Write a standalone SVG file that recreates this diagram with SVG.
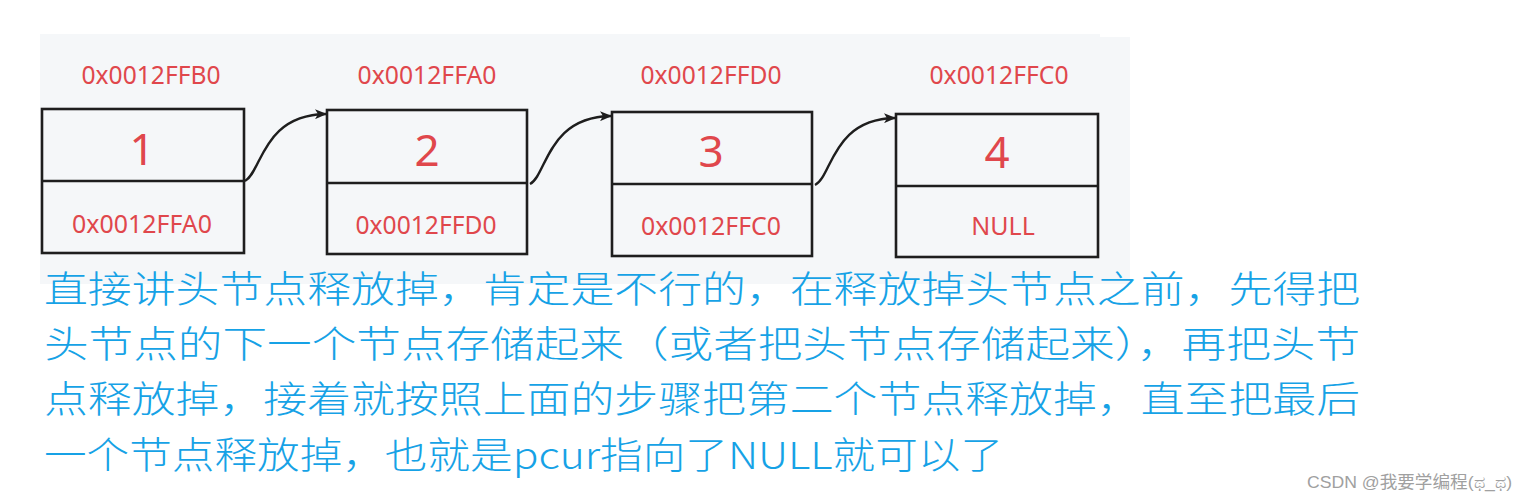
<svg xmlns="http://www.w3.org/2000/svg" width="1527" height="502" viewBox="0 0 1527 502">
<defs>
<style>
.box{fill:none;stroke:#1e1e1e;stroke-width:2.6}
.lbl{font-family:"Noto Sans","Liberation Sans",sans-serif;fill:#e0474c;font-size:25px;text-anchor:middle}
.num{font-family:"Noto Sans","Liberation Sans",sans-serif;fill:#e0474c;font-size:44px;text-anchor:middle}
.con{fill:none;stroke:#1e1e1e;stroke-width:2.4}
.txt{font-family:"Noto Sans CJK SC","Noto Sans CJK JP",sans-serif;fill:#16a2e6;font-size:37px;font-weight:300}
.wm{font-family:"Liberation Sans","Noto Sans CJK SC",sans-serif;fill:#a0a0a0;font-size:17px}
</style>
<marker id="arr" viewBox="0 0 12 10" refX="11" refY="5" markerWidth="12" markerHeight="10" markerUnits="userSpaceOnUse" orient="auto">
<path d="M0,0 L12,5 L0,10 L3,5 Z" fill="#1e1e1e"/>
</marker>
</defs>
<rect x="0" y="0" width="1527" height="502" fill="#ffffff"/>
<rect x="40" y="34" width="1060" height="4" fill="#f5f7f9"/>
<rect x="40" y="37" width="1090" height="247" fill="#f5f7f9"/>

<g id="node1">
<text class="lbl" x="151" y="84" textLength="139" lengthAdjust="spacingAndGlyphs">0x0012FFB0</text>
<rect class="box" x="42" y="109" width="202" height="144"/>
<line class="box" x1="42" y1="181" x2="244" y2="181"/>
<text class="num" x="142" y="165">1</text>
<text class="lbl" x="142" y="233" textLength="140" lengthAdjust="spacingAndGlyphs">0x0012FFA0</text>
</g>
<g id="node2">
<text class="lbl" x="427" y="84" textLength="139" lengthAdjust="spacingAndGlyphs">0x0012FFA0</text>
<rect class="box" x="327" y="110" width="200" height="144"/>
<line class="box" x1="327" y1="183" x2="527" y2="183"/>
<text class="num" x="427" y="166">2</text>
<text class="lbl" x="426" y="234" textLength="141" lengthAdjust="spacingAndGlyphs">0x0012FFD0</text>
</g>
<g id="node3">
<text class="lbl" x="711" y="84" textLength="141" lengthAdjust="spacingAndGlyphs">0x0012FFD0</text>
<rect class="box" x="612" y="112" width="200" height="144"/>
<line class="box" x1="612" y1="184" x2="812" y2="184"/>
<text class="num" x="711" y="167">3</text>
<text class="lbl" x="711" y="235" textLength="140" lengthAdjust="spacingAndGlyphs">0x0012FFC0</text>
</g>
<g id="node4">
<text class="lbl" x="999" y="84" textLength="139" lengthAdjust="spacingAndGlyphs">0x0012FFC0</text>
<rect class="box" x="896" y="114" width="202" height="143"/>
<line class="box" x1="896" y1="186" x2="1098" y2="186"/>
<text class="num" x="997" y="168">4</text>
<text class="lbl" x="1003" y="235">NULL</text>
</g>

<g id="connectors">
<path class="con" marker-end="url(#arr)" d="M245,181 C262,172 262,115 326,114"/>
<path class="con" marker-end="url(#arr)" d="M530,184 C547,175 547,117 611,116"/>
<path class="con" marker-end="url(#arr)" d="M815,185 C832,177 832,119 895,118"/>
</g>

<g id="caption">
<text class="txt" x="44" y="303" textLength="1316" lengthAdjust="spacingAndGlyphs">直接讲头节点释放掉，肯定是不行的，在释放掉头节点之前，先得把</text>
<text class="txt" x="44" y="358" textLength="1316" lengthAdjust="spacingAndGlyphs">头节点的下一个节点存储起来（或者把头节点存储起来），再把头节</text>
<text class="txt" x="44" y="413" textLength="1316" lengthAdjust="spacingAndGlyphs">点释放掉，接着就按照上面的步骤把第二个节点释放掉，直至把最后</text>
<text class="txt" x="44" y="469" textLength="959" lengthAdjust="spacingAndGlyphs">一个节点释放掉，也就是pcur指向了NULL就可以了</text>
</g>
<text class="wm" x="1307" y="488" textLength="205" lengthAdjust="spacingAndGlyphs">CSDN @我要学编程(ಥ_ಥ)</text>
</svg>
